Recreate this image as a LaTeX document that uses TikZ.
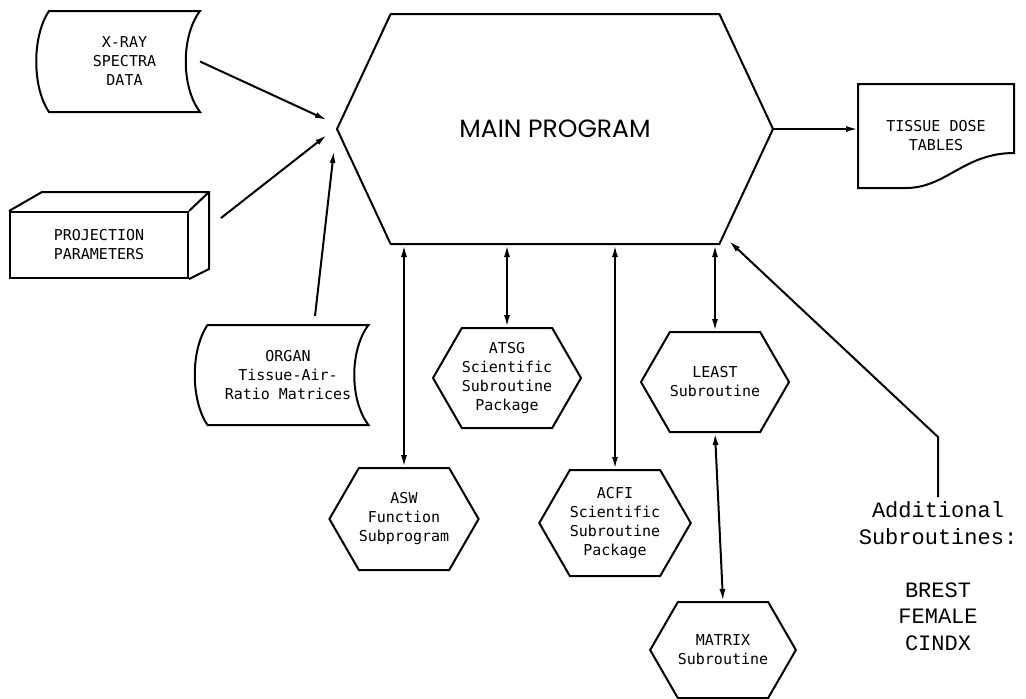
\documentclass[tikz,border=0pt]{standalone}
\usepackage{fontspec}
\usetikzlibrary{shapes.symbols, arrows.meta, calc}
\newfontfamily\progfont{Poppins}
\newfontfamily\tagfont{DejaVu Sans Mono}
\newfontfamily\notefont{Liberation Mono}

\begin{document}
\begin{tikzpicture}[x=0.5pt, y=-0.5pt, line width=1pt, >={Latex[length=6pt, width=3pt]},
  prog/.style={signal, signal to=east and west, draw, align=center, inner sep=0pt},
  sub/.style={prog, signal pointer angle=120, font=\tagfont\fontsize{7.5}{9.5}\selectfont},
  store/.style={align=center, inner sep=0pt, font=\tagfont\fontsize{7.5}{9.5}\selectfont}]

\useasboundingbox (0,0) rectangle (1026,698);

\node [prog, signal pointer angle=130, minimum width=218pt, minimum height=115pt,
  font=\progfont\fontsize{12.5}{15}\selectfont] (main) at (555,129) {MAIN PROGRAM};

\node [store, minimum width=74.5pt, minimum height=49.5pt] (xray) at (124.5,61.5) {X-RAY\\SPECTRA\\DATA};
\node [store, draw, minimum width=89pt, minimum height=33pt] (proj) at (99,245) {PROJECTION\\PARAMETERS};
\node [store, minimum width=79.5pt, minimum height=49pt] (organ) at (288,375) {ORGAN\\Tissue-Air-\\Ratio Matrices};
\node [store, minimum width=77pt, minimum height=51pt] (tissue) at (936,136) {TISSUE DOSE\\TABLES};

\node [sub, minimum width=71pt, minimum height=51pt] (asw) at (404,519) {ASW\\Function\\Subprogram};
\node [sub, minimum width=69pt, minimum height=50pt] (atsg) at (507,378) {ATSG\\Scientific\\Subroutine\\Package};
\node [sub, minimum width=68pt, minimum height=53pt] (acfi) at (615,523) {ACFI\\Scientific\\Subroutine\\Package};
\node [sub, minimum width=68pt, minimum height=50pt] (least) at (715,382) {LEAST\\Subroutine};
\node [sub, minimum width=68pt, minimum height=48pt] (matrix) at (723,650) {MATRIX\\Subroutine};

\node [align=center, anchor=north, inner sep=2pt, font=\notefont\fontsize{11}{13.25}\selectfont]
  (addl) at (938,497) {Additional\\Subroutines:\\[13.25pt]BREST\\FEMALE\\CINDX};

% outlines of the data symbols
\draw (xray.north west) -- (xray.north east)
  .. controls ($(xray.north east)+(-19,25)$) and ($(xray.south east)+(-19,-25)$) .. (xray.south east)
  -- (xray.south west)
  .. controls ($(xray.south west)+(-17,-25)$) and ($(xray.north west)+(-17,25)$) .. cycle;
\draw (organ.north west) -- (organ.north east)
  .. controls ($(organ.north east)+(-19,25)$) and ($(organ.south east)+(-19,-25)$) .. (organ.south east)
  -- (organ.south west)
  .. controls ($(organ.south west)+(-17,-25)$) and ($(organ.north west)+(-17,25)$) .. cycle;
\draw (tissue.north west) -- (tissue.north east) -- ($(tissue.south east)+(0,-35)$)
  .. controls ($(tissue.south east)+(-50,-35)$) and ($(tissue.south)+(10,0)$) .. ($(tissue.south)+(-30,0)$)
  -- (tissue.south west) -- cycle;
\draw (proj.north west) -- ++(33,-19) -- ($(proj.north east)+(20,-19)$)
  -- ($(proj.south east)+(20,-10)$) -- (proj.south east);
\draw (proj.north east) -- ++(20,-19);

% data flow
\draw [->] (xray.east) -- ($(main.west)+(-9,-9)$);
\draw [->] ($(proj.east)+(32,-27)$) -- ($(main.west)+(-9,6)$);
\draw [->] ($(organ.north)+(27,-9)$) -- ($(main.west)+(-2,22)$);
\draw [->] (main.east) -- (main.east -| tissue.west);

\draw [<->] (asw.north) -- (asw.north |- main.south);
\draw [<->] (atsg.north) -- (atsg.north |- main.south);
\draw [<->] (acfi.north) -- (acfi.north |- main.south);
\draw [<->] (least.north) -- (least.north |- main.south);
\draw [<->] (least.south) -- (matrix.north);

\draw [->] (addl.north) -- ++(0,-60) -- ($(main.south)+(174,-4)$);

\end{tikzpicture}
\end{document}
